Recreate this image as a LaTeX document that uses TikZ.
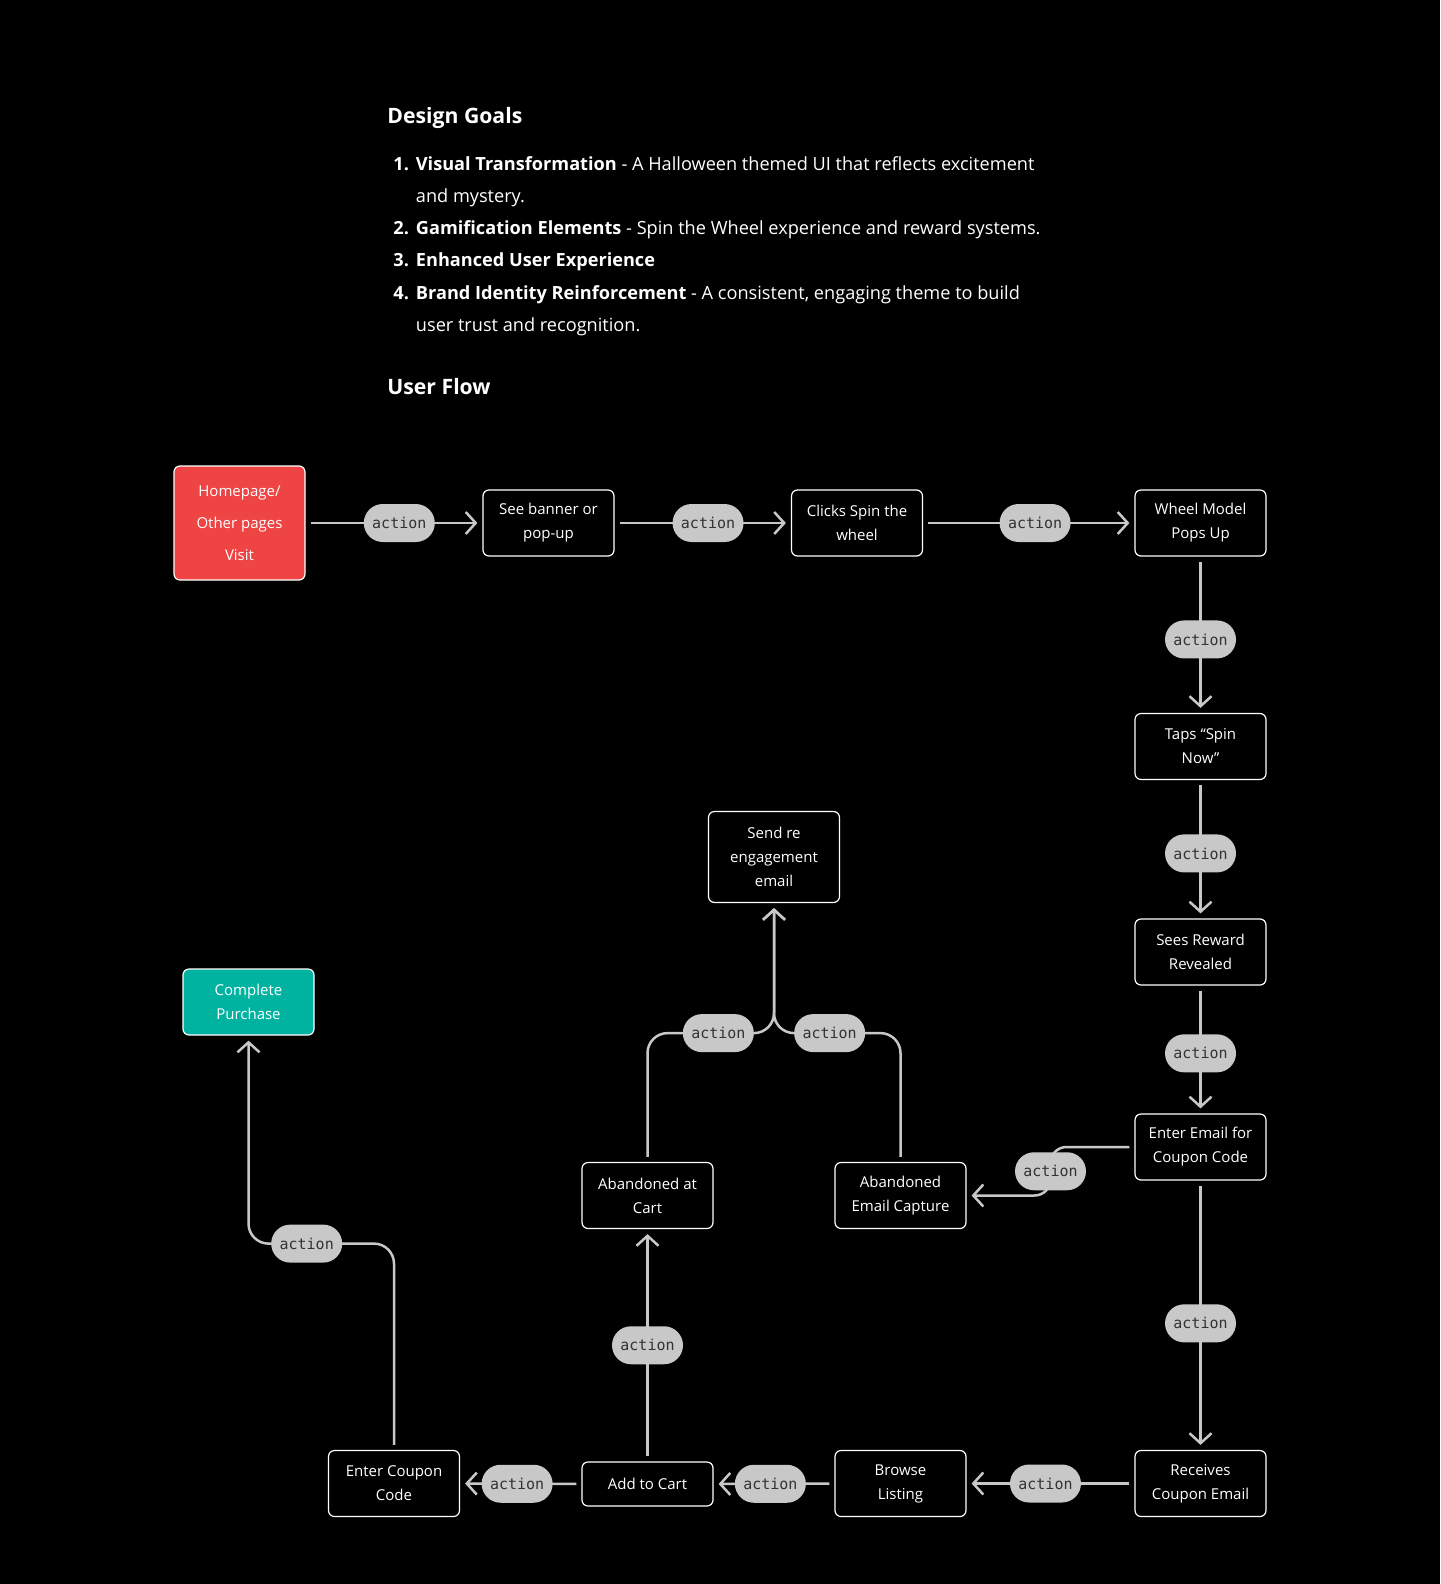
\documentclass[tikz,border=0pt]{standalone}
\usepackage{fontspec}
\setmainfont{Open Sans}
\newfontfamily\pillfont{DejaVu Sans Mono}
\usetikzlibrary{arrows.meta,calc}

\definecolor{redbox}{HTML}{EF4444}
\definecolor{tealbox}{HTML}{00B3A1}
\definecolor{linegray}{HTML}{C8C8C8}
\definecolor{pilltext}{HTML}{333333}

\begin{document}
\begin{tikzpicture}[
      x=0.5pt, y=-0.5pt,
      box/.style={draw=white, line width=0.6pt, fill=black, text=white,
                  rounded corners=3pt, minimum width=65.5pt, minimum height=33pt,
                  inner sep=2pt, align=center, font=\fontsize{7.5}{12}\selectfont},
      start/.style={box, fill=redbox, minimum height=57pt,
                    font=\fontsize{7.5}{16}\selectfont},
      done/.style={box, fill=tealbox},
      act/.style={fill=linegray, text=pilltext, rounded corners=9.5pt,
                  minimum width=35.5pt, minimum height=19pt, inner sep=0pt,
                  font=\pillfont\fontsize{7.5}{9}\selectfont},
      flow/.style={draw=linegray, line width=1.25pt,
                   -{Straight Barb[length=5pt,width=11pt]},
                   shorten >=2.5pt, shorten <=2.5pt},
      heading/.style={text=white, anchor=west, inner sep=0pt,
                      font=\fontsize{10.6}{13}\selectfont\bfseries}
    ]
    \fill[black] (0,0) rectangle (1440,1584);
    \useasboundingbox (0,0) rectangle (1440,1584);

    % Texto
    \node[heading] (hgoals) at (387,118) {Design Goals};
    \node[text=white, anchor=base west, inner sep=0pt, align=left] (goals) at (393,170)
      {\fontsize{9.08}{16.15}\selectfont
       \begin{tabular}[t]{@{}r@{\hspace{3.5pt}}l@{}}
       \textbf{1.} & \textbf{Visual Transformation} - A Halloween themed UI that reflects excitement\\
                   & and mystery.\\
       \textbf{2.} & \textbf{Gamification Elements} - Spin the Wheel experience and reward systems.\\
       \textbf{3.} & \textbf{Enhanced User Experience}\\
       \textbf{4.} & \textbf{Brand Identity Reinforcement} - A consistent, engaging theme to build\\
                   & user trust and recognition.
       \end{tabular}};
    \node[heading] (hflow) at (387,387) {User Flow};

    % Caixas
    \node[start] (home)     at (239.5,523)   {Homepage/\\Other pages\\Visit};
    \node[box]   (banner)   at (548.5,523)   {See banner or\\pop-up};
    \node[box]   (clicks)   at (857,523)     {Clicks Spin the\\wheel};
    \node[box]   (wheel)    at (1200.5,523)  {Wheel Model\\Pops Up};
    \node[box]   (taps)     at (1200.5,746.5) {Taps “Spin\\Now”};
    \node[box]   (reward)   at (1200.5,952)  {Sees Reward\\Revealed};
    \node[box]   (email)    at (1200.5,1147) {Enter Email for\\Coupon Code};
    \node[box]   (receives) at (1200.5,1483.5) {Receives\\Coupon Email};
    \node[box]   (browse)   at (900.5,1483.5) {Browse\\Listing};
    \node[box, minimum height=22pt] (addcart) at (647.5,1484) {Add to Cart};
    \node[box]   (coupon)   at (394,1483.5)  {Enter Coupon\\Code};
    \node[box]   (abcart)   at (647.5,1195.5) {Abandoned at\\Cart};
    \node[box]   (abem)     at (900.5,1195.5) {Abandoned\\Email Capture};
    \node[box, minimum height=45.5pt] (send) at (774,857) {Send re\\engagement\\email};
    \node[done]  (complete) at (248.5,1002)  {Complete\\Purchase};

    % Fluxo superior
    \draw[flow] (home.east)   -- node[act, pos=0.53] {action} (banner.west);
    \draw[flow] (banner.east) -- node[act, pos=0.53] {action} (clicks.west);
    \draw[flow] (clicks.east) -- node[act, pos=0.53] {action} (wheel.west);

    % Coluna direita
    \draw[flow] (wheel.south)  -- node[act, pos=0.53] {action} (taps.north);
    \draw[flow] (taps.south)   -- node[act, pos=0.53] {action} (reward.north);
    \draw[flow] (reward.south) -- node[act, pos=0.53] {action} (email.north);
    \draw[flow] (email.south)  -- node[act, pos=0.53] {action} (receives.north);

    % Linha inferior
    \draw[flow] (receives.west) -- node[act, pos=0.53] {action} (browse.east);
    \draw[flow] (browse.west)   -- node[act, pos=0.53] {action} (addcart.east);
    \draw[flow] (addcart.west)  -- node[act, pos=0.53] {action} (coupon.east);

    % Abandono
    \coordinate (emid) at ($(email.west)!0.5!(abem.east)$);
    \draw[flow, rounded corners=8pt] (email.west) -| (emid) |- (abem.east);
    \node[act] (actem) at (emid) {action};
    \draw[flow] (addcart.north) -- node[act] {action} (abcart.south);

    % Reengajamento
    \coordinate (join) at ($(send.south)+(0,130)$);
    \draw[flow, rounded corners=10pt] (abcart.north) |- node[act, pos=0.78] {action} (join) -- (send.south);
    \draw[flow, rounded corners=10pt] (abem.north) |- node[act, pos=0.78] {action} (join) -- (send.south);

    % Compra
    \coordinate (buy) at ($(complete.south)+(0,208)$);
    \draw[flow, rounded corners=10pt] (coupon.north) |- node[act, pos=0.8] {action} (buy) -- (complete.south);
  \end{tikzpicture}
\end{document}
